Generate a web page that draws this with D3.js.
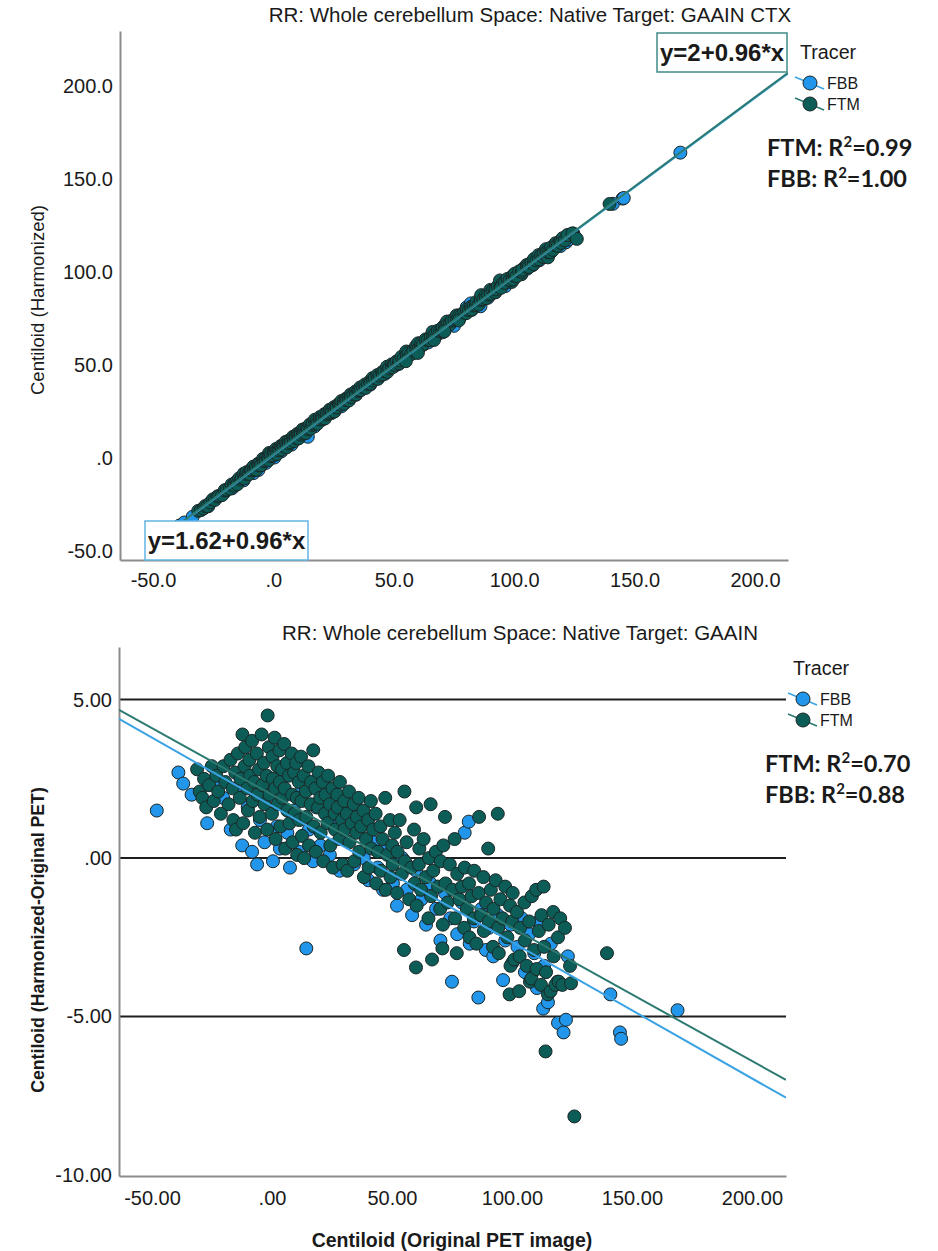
<!DOCTYPE html>
<html>
<head>
<meta charset="utf-8">
<script src="https://cdn.jsdelivr.net/npm/d3@7"></script>
<style>
  body { margin: 0; background: #fff; }
  svg { display: block; }
  text { font-family: "Liberation Sans", Arial, sans-serif; fill: #1a1a1a; }
  .bold-eq { font-weight: bold; }
  .r2 { font-family: Lato, "Open Sans", sans-serif; font-weight: bold; }
</style>
</head>
<body>
<svg id="chart" width="938" height="1251"></svg>
<script>
// ---- Labels ----
const titleTop = "RR: Whole cerebellum Space: Native Target: GAAIN CTX";
const titleBottom = "RR: Whole cerebellum Space: Native Target: GAAIN";
const yTitleTop = "Centiloid (Harmonized)";
const yTitleBottom = "Centiloid (Harmonized-Original PET)";
const xTitleBottom = "Centiloid (Original PET image)";
const tracers = ["FBB", "FTM"];

// ---- Tick values ----
const topXTicks = [-50, 0, 50, 100, 150, 200];
const topYTicks = [-50, 0, 50, 100, 150, 200];
const bottomXTicks = [-50, 0, 50, 100, 150, 200];
const bottomYTicks = [-10, -5, 0, 5];
const refLines = [5, 0, -5];

// ---- Fit lines (Harmonized vs Original) ----
const fitIntercept = { FBB: 1.62, FTM: 2 };
const fitSlope = { FBB: 0.96, FTM: 0.96 };
const eqLabels = { FBB: "y=1.62+0.96*x", FTM: "y=2+0.96*x" };
// ---- Fit lines of the difference (Harmonized - Original) ----
const diffIntercept = { FBB: 1.65, FTM: 2.0 };
const diffSlope = { FBB: -0.043, FTM: -0.042 };

// ---- R squared ----
const r2Top = [["FTM", "0.99"], ["FBB", "1.00"]];
const r2Bottom = [["FTM", "0.70"], ["FBB", "0.88"]];

// ---- Subjects: [original centiloid, harmonized - original] ----
const fbbPoints = [
  [-48,1.5],[-39,2.7],[-37,2.35],[-33.5,2.0],[-27,1.1],[-24.5,2.4],[-20.3,1.9],[-17.2,0.9],[-14,2.2],[-12.4,0.4],
  [-10.1,1.6],[-8.3,0.2],[-6.2,-0.2],[-5,1.2],[-3.1,0.5],[-1.2,2.4],[0.4,-0.1],[2.1,1.0],[3.3,0.3],[5.2,2.7],
  [6.4,0.8],[7.5,-0.3],[9.1,1.5],[11.2,0.2],[12.3,2.1],[14.3,-2.85],[15.4,0.9],[17.1,-0.1],[18.5,1.6],[20.2,0.4],
  [22.3,1.9],[24.1,0.1],[26.4,1.0],[28.2,-0.4],[30.1,0.6],[32.4,1.4],[34.2,-0.2],[36.1,0.9],[38.3,0.0],[40.2,-0.7],
  [42.5,0.5],[44.1,-0.3],[46.3,-1.0],[48.2,0.3],[50.4,-0.8],[52.1,-1.5],[54.3,0.0],[56.2,-1.0],[58.4,-1.8],[60.1,-0.4],
  [62.3,-1.3],[64.2,-2.1],[66.1,-0.8],[68.4,-1.6],[70.2,-2.6],[72.1,-1.1],[74.3,-1.9],[75,-3.9],[77.2,-2.4],[79.1,-1.4],
  [80.3,0.8],[82,1.15],[82.4,-2.7],[84.2,-2.0],[86,-4.4],[87.3,-1.6],[89.1,-2.9],[90.4,-2.2],[92.2,-3.1],[94.1,-1.8],
  [96.3,-3.85],[97.2,-2.6],[99.4,-2.1],[100.2,-3.3],[102.3,-2.8],[104.1,-1.9],[105.4,-3.6],[107.2,-2.4],[109.3,-3.0],[110.4,-4.1],
  [111.2,-2.0],[113,-4.75],[113.4,-3.4],[115,-4.55],[116.2,-2.7],[119,-3.9],[119.2,-5.2],[121.5,-5.5],[122.5,-5.1],[123.3,-3.1],
  [141,-4.3],[145,-5.5],[145.5,-5.7],[169,-4.8]
];
const ftmPoints = [
  [-31.2,2.8],[-30.1,2.1],[-29,1.9],[-28.3,2.5],[-27.4,1.6],[-26.2,2.3],[-25.1,2.9],[-24.3,1.8],[-23.2,2.6],[-22.4,2.1],
  [-21.3,1.4],[-20.2,2.9],[-19.4,2.4],[-18.1,1.7],[-17.3,3.1],[-16.4,2.2],[-16.1,1.2],[-15.3,2.7],[-15,0.9],[-14.2,3.3],
  [-13.4,1.9],[-13.1,2.5],[-12.3,3.9],[-12,1.1],[-11.4,2.9],[-11.1,3.5],[-10.3,2.2],[-10,1.5],[-9.4,3.1],[-9.1,2.6],
  [-8.3,3.7],[-8,1.8],[-7.4,2.4],[-7.1,0.8],[-6.3,3.3],[-6,2.0],[-5.4,2.8],[-5.1,1.3],[-4.3,3.9],[-4,2.3],
  [-3.4,3.0],[-3.1,1.7],[-1.8,4.5],[-2.2,2.6],[-2,0.9],[-1.3,3.5],[-1,2.0],[0.2,3.2],[0,1.4],[0.4,2.5],
  [1.1,3.8],[1.3,2.2],[1.5,0.6],[2.2,2.9],[2.4,1.7],[3.1,3.4],[3.3,2.4],[3.5,1.0],[4.2,2.8],[4.4,1.9],
  [5.1,3.6],[5.3,2.2],[5.5,0.3],[6.2,3.0],[6.4,1.5],[7.1,2.6],[7.3,1.1],[8.2,3.3],[8.4,2.0],[8.6,0.5],
  [9.2,2.7],[9.4,1.4],[10.1,3.0],[10.3,1.9],[10.5,0.1],[11.2,2.4],[11.4,1.2],[12.1,3.2],[12.3,1.8],[12.5,0.7],
  [13.2,2.6],[13.4,0.0],[14.1,2.1],[14.3,1.3],[15.2,2.9],[15.4,0.4],[16.1,1.7],[16.3,2.4],[17.2,3.4],[17.4,1.0],
  [18.1,2.2],[18.3,0.2],[19.2,1.6],[19.4,2.7],[20.1,1.9],[20.3,0.8],[21.2,2.4],[21.4,-0.1],[22.1,1.4],[22.3,2.0],
  [23.2,1.1],[23.4,2.6],[24.1,1.7],[24.3,0.4],[25.2,2.2],[25.4,-0.3],[26.1,1.4],[26.3,0.9],[27.2,2.0],[27.4,1.6],
  [28.1,0.6],[28.3,2.4],[29.2,1.2],[29.4,-0.2],[30.1,1.8],[30.3,0.9],[31.2,1.4],[31.4,-0.4],[32.1,2.1],[32.3,0.5],
  [33.2,1.1],[34.1,1.7],[34.3,-0.1],[35.2,0.8],[35.4,1.3],[36.1,1.9],[36.3,0.2],[37.2,1.0],[38.1,1.5],[38.3,-0.6],
  [39.2,0.6],[40.1,1.2],[40.3,-0.3],[41.2,1.8],[41.4,0.3],[42.1,0.9],[43.2,1.4],[43.4,-0.8],[44.1,0.2],[45.2,1.0],
  [45.4,-0.4],[46.1,0.6],[47.2,1.9],[47.4,-1.0],[48.1,0.1],[49.2,1.2],[49.4,-0.6],[50.1,0.4],[50.3,-0.2],[51.2,0.8],
  [52.1,-1.1],[52.3,0.2],[53.2,1.2],[54.1,-0.5],[55.2,2.1],[55.4,-0.1],[56.1,0.5],[57.2,-1.3],[55,-2.9],[58.1,-0.3],
  [59.2,0.9],[59.4,-0.8],[60.1,1.6],[60.3,-1.5],[61.2,-0.2],[61.4,0.3],[62.1,-1.0],[60,-3.45],[63.2,0.6],[64.1,-0.6],
  [65.2,-1.9],[65.4,0.0],[66.1,1.7],[66.3,-1.2],[67.2,-0.4],[66.7,-3.2],[68.3,0.2],[69.2,-0.9],[70.1,-1.6],[70.3,-0.1],
  [71.2,-2.1],[71.4,0.4],[72.1,1.3],[72.3,-0.8],[73.2,-1.4],[74.1,-0.2],[71,-2.85],[75.2,-1.0],[76.1,0.6],[76.3,-1.9],
  [77.2,-0.5],[78.1,-1.3],[77,-3.0],[79.2,-0.9],[80.1,-2.2],[80.3,-0.3],[81.2,-1.6],[82.1,-0.8],[82.3,-2.5],[83.2,-1.2],
  [84.1,-1.9],[84.3,-0.4],[85.2,-2.7],[86.1,-1.1],[86.3,1.3],[87.2,-1.8],[88.1,-0.6],[88.3,-2.3],[89.2,-1.4],[90.1,0.3],
  [90.3,-2.0],[91.2,-1.0],[92.1,-2.8],[92.3,-1.6],[93.2,-0.7],[94.1,1.4],[94.3,-2.2],[95.2,-1.3],[94.5,-3.0],[96.1,-1.9],
  [99,-4.3],[97.2,-0.9],[98.1,-2.5],[99.2,-1.5],[99.4,-3.4],[100.1,-2.0],[100.3,-1.1],[103,-4.2],[101,-3.2],[102.1,-1.7],
  [103.2,-3.1],[103.4,-2.2],[107.5,-3.9],[105.2,-1.4],[105.4,-2.6],[106.1,-3.4],[107.2,-2.0],[108.1,-3.8],[108.3,-1.2],[109.2,-2.9],
  [110.1,-1.0],[110.3,-3.5],[111.2,-2.3],[112.1,-4.0],[112.3,-1.8],[113.2,-0.9],[113.4,-2.8],[114,-6.1],[114.2,-3.6],[115,-4.3],
  [115.3,-2.1],[116.1,-4.2],[117.2,-1.7],[117.4,-3.1],[118.1,-4.0],[119.2,-2.5],[120.1,-1.9],[119.5,-3.9],[121,-4.0],[122.1,-2.2],
  [124.6,-3.95],[124.2,-3.4],[126,-8.15],[139.6,-3.0]
];

// ---- Colours ----
const fillColor = { FBB: "#2196ea", FTM: "#0c5d57" };
const lineColor = { FBB: "#3ba3e3", FTM: "#2c7a72" };
const markerStroke = "#1b2626";
const pointsByTracer = { FBB: fbbPoints, FTM: ftmPoints };

const locale = d3.formatLocale({ decimal: ".", thousands: ",", grouping: [3], currency: ["$", ""], minus: "-" });
const tickFormat = dec => {
  const f = locale.format("." + dec + "f");
  return v => f(v).replace(/^(-?)0\./, "$1.");
};

const svg = d3.select("#chart");
const R = 6.5;

function legend(g, x, y) {
  g.append("text").attr("x", x).attr("y", y).attr("font-size", 19.7).text("Tracer");
  tracers.forEach((t, i) => {
    const cy = y + 24 + i * 21, cx = x + 10;
    g.append("line").attr("x1", cx - 15).attr("y1", cy - 6).attr("x2", cx + 14).attr("y2", cy + 6)
      .attr("stroke", lineColor[t]).attr("stroke-width", 1.5);
    g.append("circle").attr("cx", cx).attr("cy", cy).attr("r", 7)
      .attr("fill", fillColor[t]).attr("stroke", markerStroke).attr("stroke-width", 1);
    g.append("text").attr("x", cx + 17).attr("y", cy + 6).attr("font-size", 16).text(t);
  });
}

function r2Block(g, x, y, rows) {
  rows.forEach(([t, v], i) => {
    const tx = g.append("text").attr("class", "r2").attr("x", x).attr("y", y + i * 31).attr("font-size", 23.5);
    tx.append("tspan").text(t + ": R");
    tx.append("tspan").attr("dy", -9).attr("font-size", 15).text("2");
    tx.append("tspan").attr("dy", 9).text("=" + v);
  });
}

function panel(cfg) {
  const g = svg.append("g");
  const x = d3.scaleLinear().domain(cfg.xDomain).range([cfg.left, cfg.right]);
  const y = d3.scaleLinear().domain(cfg.yDomain).range([cfg.bottom, cfg.top]);
  const clipId = "clip" + cfg.id;
  svg.append("clipPath").attr("id", clipId).append("rect")
    .attr("x", cfg.left).attr("y", cfg.top).attr("width", cfg.right - cfg.left).attr("height", cfg.bottom - cfg.top);

  // title
  g.append("text").attr("x", cfg.titleX).attr("y", cfg.titleY).attr("text-anchor", "middle")
    .attr("font-size", 20.5).text(cfg.title);

  // reference lines
  (cfg.refs || []).forEach(v => {
    g.append("line").attr("x1", cfg.left).attr("x2", cfg.right).attr("y1", y(v)).attr("y2", y(v))
      .attr("stroke", "#1e1e1e").attr("stroke-width", 2);
  });

  // axes
  const ax = g.append("g").attr("transform", `translate(0,${cfg.bottom})`)
    .call(d3.axisBottom(x).tickValues(cfg.xTicks).tickFormat(tickFormat(cfg.dec)).tickSize(0).tickPadding(cfg.xPad));
  const ay = g.append("g").attr("transform", `translate(${cfg.left},0)`)
    .call(d3.axisLeft(y).tickValues(cfg.yTicks).tickFormat(tickFormat(cfg.dec)).tickSize(0).tickPadding(7));
  [ax, ay].forEach(a => {
    a.attr("font-family", null).attr("font-size", null);
    a.select(".domain").attr("stroke", "#8c8c8c").attr("stroke-width", 2);
    a.selectAll("text").attr("font-size", 20).attr("fill", "#1a1a1a");
  });

  // axis titles
  g.append("text").attr("transform", `translate(${cfg.yTitleX},${cfg.yTitleY}) rotate(-90)`)
    .attr("text-anchor", "middle").attr("font-size", cfg.yTitleSize)
    .attr("font-weight", cfg.titlesBold ? "bold" : null).text(cfg.yTitle);
  if (cfg.xTitle) {
    g.append("text").attr("x", cfg.xTitleX).attr("y", cfg.xTitleY).attr("text-anchor", "middle")
      .attr("font-size", 19.5).attr("font-weight", cfg.titlesBold ? "bold" : null).text(cfg.xTitle);
  }

  // points
  const pg = g.append("g").attr("clip-path", `url(#${clipId})`);
  tracers.forEach(t => {
    pg.selectAll(null).data(pointsByTracer[t]).join("circle")
      .attr("cx", d => x(d[0])).attr("cy", d => y(cfg.yValue(d)))
      .attr("r", R).attr("fill", fillColor[t]).attr("stroke", markerStroke).attr("stroke-width", 1);
  });

  // fit lines
  tracers.forEach(t => {
    const x0 = cfg.fitFrom, x1 = cfg.xDomain[1];
    pg.append("line")
      .attr("x1", x(x0)).attr("y1", y(cfg.fit(t, x0)))
      .attr("x2", x(x1)).attr("y2", y(cfg.fit(t, x1)))
      .attr("stroke", lineColor[t]).attr("stroke-width", 2);
  });

  legend(g, cfg.legendX, cfg.legendY);
  r2Block(g, cfg.r2X, cfg.r2Y, cfg.r2);
  return { g, x, y };
}

// Upper panel: harmonized vs original
const upperPanel = panel({
  id: "Top", title: titleTop, titleX: 530, titleY: 22,
  left: 120, right: 788, top: 31, bottom: 560,
  xDomain: [-63.7, 213.7], yDomain: [-54.8, 229.6],
  xTicks: topXTicks, yTicks: topYTicks, dec: 1, xPad: 13,
  yTitle: yTitleTop, yTitleX: 44, yTitleY: 300, yTitleSize: 18.6, titlesBold: false,
  yValue: d => d[0] + d[1],
  fit: (t, v) => fitIntercept[t] + fitSlope[t] * v, fitFrom: -53,
  legendX: 800, legendY: 59, r2X: 767, r2Y: 156, r2: r2Top
});

// equation boxes
function eqBox(bx, by, w, h, t) {
  upperPanel.g.append("rect").attr("x", bx).attr("y", by).attr("width", w).attr("height", h)
    .attr("fill", "#fff").attr("stroke", t === "FTM" ? "#3f8c86" : "#62b4e6").attr("stroke-width", 1.5);
  upperPanel.g.append("text").attr("class", "bold-eq").attr("x", bx + w / 2).attr("y", by + h / 2 + 8.5)
    .attr("text-anchor", "middle").attr("font-size", 24).text(eqLabels[t]);
}
eqBox(657, 33, 130, 39, "FTM");
eqBox(145, 521, 163, 39, "FBB");

// Lower panel: difference vs original
panel({
  id: "Bottom", title: titleBottom, titleX: 520, titleY: 640,
  left: 119, right: 786, top: 647, bottom: 1176,
  xDomain: [-63.75, 214.2], yDomain: [-10.03, 6.66],
  xTicks: bottomXTicks, yTicks: bottomYTicks, dec: 2, xPad: 15, refs: refLines,
  yTitle: yTitleBottom, yTitleX: 44, yTitleY: 940, yTitleSize: 17.7, titlesBold: true,
  xTitle: xTitleBottom, xTitleX: 452, xTitleY: 1247,
  yValue: d => d[1],
  fit: (t, v) => diffIntercept[t] + diffSlope[t] * v, fitFrom: -63.75,
  legendX: 793, legendY: 675, r2X: 765, r2Y: 772, r2: r2Bottom
});
</script>
</body>
</html>
